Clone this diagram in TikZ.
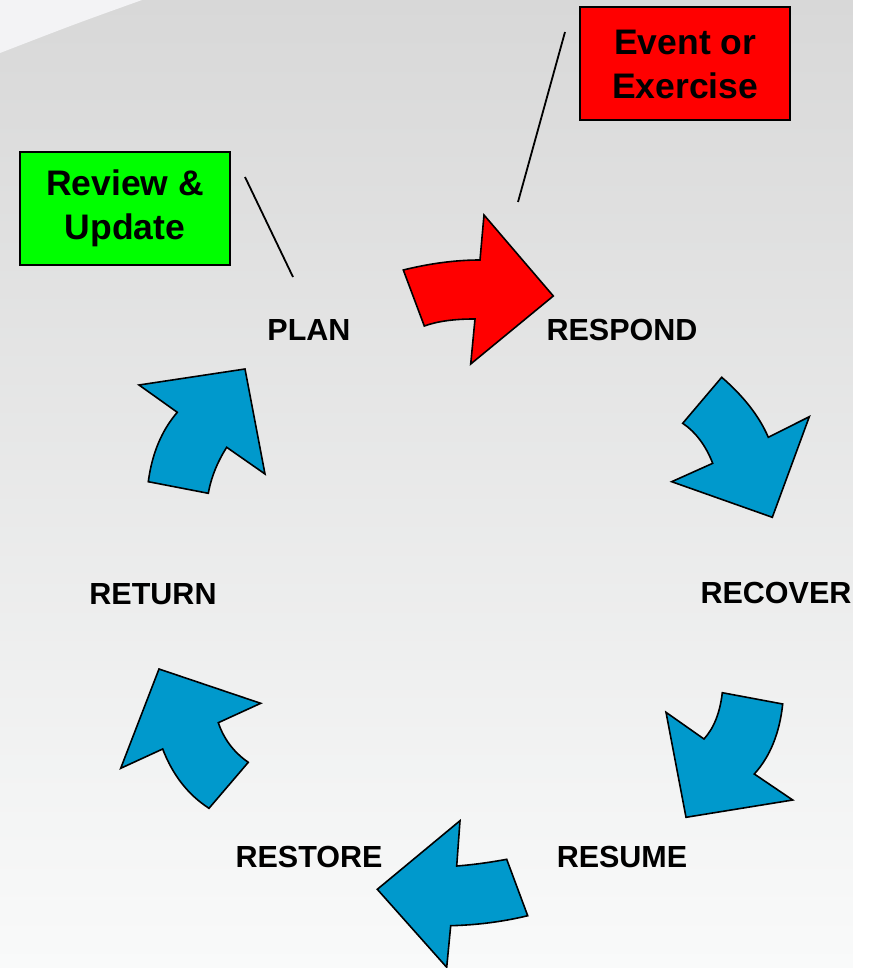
\documentclass[tikz,border=0pt]{standalone}
\usepackage{fontspec}
\setmainfont{Liberation Sans}
\definecolor{bgtop}{RGB}{216,216,216}
\definecolor{bgmid}{RGB}{231,233,236}
\definecolor{bgbot}{RGB}{249,250,250}
\definecolor{swoosh}{RGB}{243,243,245}
\definecolor{arrowblue}{RGB}{0,153,204}
\definecolor{arrowred}{RGB}{255,0,0}
\definecolor{boxgreen}{RGB}{0,255,0}
\tikzset{
  phase/.style={font=\bfseries\fontsize{30.5}{36}\selectfont, inner sep=0pt},
  notebox/.style={draw=black, line width=2pt, minimum width=210pt, minimum height=113pt,
    align=center, inner sep=0pt, font=\bfseries\fontsize{35.5}{44}\selectfont},
  blockarrow/.style={draw=black, line width=1.6pt, line join=miter},
  leader/.style={draw=black, line width=1.8pt}
}
\begin{document}
\begin{tikzpicture}[x=1pt,y=-1pt]
\useasboundingbox (0,0) rectangle (871,968);
% background
\shade[top color=bgtop, middle color=bgmid, bottom color=bgbot] (0,0) rectangle (853,968);
\fill[white] (853,0) rectangle (871,968);
\fill[swoosh] (0,0) -- (142,0) .. controls (75,24) .. (0,53) -- cycle;

% phase labels
\node[phase] (plan) at (309,330) {PLAN};
\node[phase] (respond) at (622,330) {RESPOND};
\node[phase] (recover) at (776,593) {RECOVER};
\node[phase] (resume) at (622,857) {RESUME};
\node[phase] (restore) at (309,857) {RESTORE};
\node[phase] (return) at (153,594) {RETURN};

% note boxes
\node[notebox, fill=arrowred] (event) at (685.3,64) {Event or\\Exercise};
\node[notebox, fill=boxgreen] (review) at (125,208.5) {Review \&\\Update};

% leader lines
\coordinate (eventend) at (518,202);
\coordinate (eventstart) at (565,32);
\coordinate (reviewstart) at (245,177);
\coordinate (planend) at (293,277);
\draw[leader] (eventstart) -- (eventend);
\draw[leader] (reviewstart) -- (planend);

% red arrow PLAN -> RESPOND
\draw[blockarrow, fill=arrowred]
  (403.3,270) .. controls (430.4,263.3) and (456,260) .. (480,260) -- (484,215) -- (553.3,296)
  -- (470.7,364) -- (475,319) .. controls (454.1,318.9) and (437.3,321.3) .. (424.3,326) -- cycle;

% RESPOND -> RECOVER
\draw[blockarrow, fill=arrowblue]
  (721.7,377.3) .. controls (743.9,396.5) and (759.4,416.5) .. (768.3,437.3) -- (809.3,416.7)
  -- (772.3,517.3) -- (671.7,481.7) -- (712.7,463.3)
  .. controls (705.8,445.6) and (695.8,432.2) .. (682.7,423.3) -- cycle;

% RECOVER -> RESUME
\draw[blockarrow, fill=arrowblue]
  (722.3,692.7) -- (782.7,704) .. controls (779.6,733.1) and (770.2,756.4) .. (754.3,774) -- (792.7,800)
  -- (686,817.3) -- (666,712.3) -- (704,739)
  .. controls (713.9,728.1) and (720,712.7) .. (722.3,692.7) -- cycle;

% RESUME -> RESTORE
\draw[blockarrow, fill=arrowblue]
  (460,820.7) -- (456.7,866) .. controls (473.4,864.7) and (490,862.4) .. (506.7,859.3) -- (527.7,915.7)
  .. controls (503.1,921.7) and (477.4,925) .. (450.7,925.7) -- (446.7,967.3) -- (377.3,889.3) -- cycle;

% RESTORE -> RETURN
\draw[blockarrow, fill=arrowblue]
  (159,669) -- (260.7,703.3) -- (218.3,722.7) .. controls (223.9,739.2) and (233.9,752.4) .. (248.3,762.3)
  -- (209,808.3) .. controls (188,794.7) and (172.6,774.9) .. (162.7,749) -- (120.7,768.3) -- cycle;

% RETURN -> PLAN
\draw[blockarrow, fill=arrowblue]
  (139,385) -- (245,369) -- (265,474) -- (226.7,447.3) .. controls (217.2,462.2) and (211.1,477.6) .. (208.3,493.3)
  -- (148.3,481.7) .. controls (152,453.6) and (161.6,430.5) .. (177.3,412.3) -- cycle;
\end{tikzpicture}
\end{document}
